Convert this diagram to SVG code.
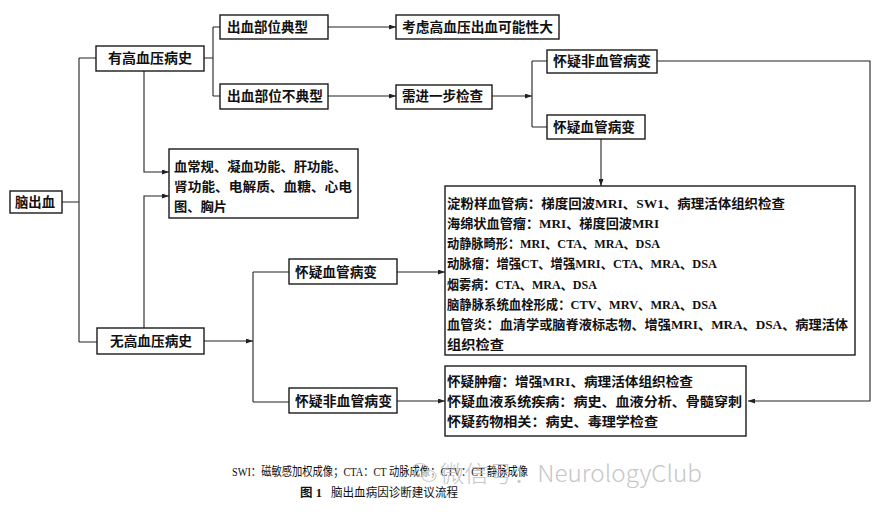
<svg xmlns="http://www.w3.org/2000/svg" width="888" height="519" viewBox="0 0 888 519">
<defs>
<marker id="ah" markerUnits="userSpaceOnUse" markerWidth="7" markerHeight="5" refX="7" refY="2.5" orient="auto">
<path d="M0,0 L7,2.5 L0,5 z" fill="#222"/>
</marker>
<style>
.box{fill:#fff;stroke:#1a1a1a;stroke-width:1.4}
.t{font-family:"Liberation Serif","Noto Sans CJK SC",serif;font-weight:bold;font-size:13.5px;fill:#111;dominant-baseline:central}
.s{font-family:"Liberation Serif","Noto Sans CJK SC",serif;font-weight:bold;font-size:13px;fill:#111;dominant-baseline:central}
.ln{fill:none;stroke:#222;stroke-width:1.1}
.cap{font-family:"Liberation Serif","Noto Sans CJK SC",serif;font-size:12.5px;fill:#111;dominant-baseline:central}
.wm{font-family:"Noto Sans CJK SC","Noto Sans",sans-serif;font-weight:300;font-size:23px;fill:#bdbdbd;dominant-baseline:central}
</style>
</defs>
<rect width="888" height="519" fill="#fff"/>

<g id="connectors">
<!-- 脑出血 trunk -->
<path class="ln" d="M62,202 H79 M79,58 V342 M79,58 H96 M79,342 H97"/>
<!-- 有高血压病史 bracket -->
<path class="ln" d="M204,58 H213 M213,27 V96 M213,27 H220 M213,96 H220"/>
<path class="ln" d="M328,27 H396" marker-end="url(#ah)"/>
<path class="ln" d="M328,96 H396" marker-end="url(#ah)"/>
<path class="ln" d="M492,96 H532" marker-end="url(#ah)"/>
<path class="ln" d="M532,61 V127 M532,61 H547 M532,127 H547"/>
<path class="ln" d="M601,139 V186" marker-end="url(#ah)"/>
<path class="ln" d="M657,61 H870 V401 H748" marker-end="url(#ah)"/>
<!-- lab box -->
<path class="ln" d="M144,71 V172 H169" marker-end="url(#ah)"/>
<path class="ln" d="M144,328 V196 H169" marker-end="url(#ah)"/>
<!-- 无高血压病史 -->
<path class="ln" d="M204,341 H253" marker-end="url(#ah)"/>
<path class="ln" d="M253,272 V402 M253,272 H289 M253,402 H289"/>
<path class="ln" d="M397,272 H445" marker-end="url(#ah)"/>
<path class="ln" d="M397,401 H445" marker-end="url(#ah)"/>
</g>

<g id="n-ich">
<rect class="box" x="10" y="191" width="52" height="22"/>
<text class="t" x="15" y="202" textLength="40" lengthAdjust="spacingAndGlyphs">脑出血</text>
</g>
<g id="n-htn">
<rect class="box" x="96" y="46" width="108" height="25"/>
<text class="t" x="108" y="58" textLength="84" lengthAdjust="spacingAndGlyphs">有高血压病史</text>
</g>
<g id="n-typical">
<rect class="box" x="220" y="15" width="108" height="24"/>
<text class="t" x="227" y="27" textLength="81" lengthAdjust="spacingAndGlyphs">出血部位典型</text>
</g>
<g id="n-atypical">
<rect class="box" x="220" y="84" width="108" height="25"/>
<text class="t" x="227" y="96" textLength="96" lengthAdjust="spacingAndGlyphs">出血部位不典型</text>
</g>
<g id="n-htn-ich">
<rect class="box" x="396" y="15" width="163" height="24"/>
<text class="t" x="402" y="27" textLength="151" lengthAdjust="spacingAndGlyphs">考虑高血压出血可能性大</text>
</g>
<g id="n-further">
<rect class="box" x="396" y="85" width="96" height="24"/>
<text class="t" x="402" y="96" textLength="81" lengthAdjust="spacingAndGlyphs">需进一步检查</text>
</g>
<g id="n-nonvasc-top">
<rect class="box" x="547" y="50" width="110" height="23"/>
<text class="t" x="553" y="61" textLength="98" lengthAdjust="spacingAndGlyphs">怀疑非血管病变</text>
</g>
<g id="n-vasc-top">
<rect class="box" x="547" y="115" width="98" height="24"/>
<text class="t" x="553" y="127" textLength="82" lengthAdjust="spacingAndGlyphs">怀疑血管病变</text>
</g>
<g id="n-labs">
<rect class="box" x="169" y="149" width="189" height="69"/>
<text class="s" x="174" y="166" textLength="173" lengthAdjust="spacingAndGlyphs">血常规、凝血功能、肝功能、</text>
<text class="s" x="174" y="186" textLength="178" lengthAdjust="spacingAndGlyphs">肾功能、电解质、血糖、心电</text>
<text class="s" x="174" y="206" textLength="53" lengthAdjust="spacingAndGlyphs">图、胸片</text>
</g>
<g id="n-nohtn">
<rect class="box" x="97" y="328" width="107" height="26"/>
<text class="t" x="110" y="341" textLength="82" lengthAdjust="spacingAndGlyphs">无高血压病史</text>
</g>
<g id="n-vasc-low">
<rect class="box" x="289" y="259" width="108" height="25"/>
<text class="t" x="295" y="272" textLength="82" lengthAdjust="spacingAndGlyphs">怀疑血管病变</text>
</g>
<g id="n-nonvasc-low">
<rect class="box" x="289" y="388" width="108" height="25"/>
<text class="t" x="295" y="401" textLength="97" lengthAdjust="spacingAndGlyphs">怀疑非血管病变</text>
</g>
<g id="n-vasc-workup">
<rect class="box" x="445" y="186" width="410" height="169"/>
<text class="s" x="447" y="203" textLength="338" lengthAdjust="spacingAndGlyphs">淀粉样血管病：梯度回波MRI、SW1、病理活体组织检查</text>
<text class="s" x="447" y="223" textLength="212" lengthAdjust="spacingAndGlyphs">海绵状血管瘤：MRI、梯度回波MRI</text>
<text class="s" x="447" y="243" textLength="213" lengthAdjust="spacingAndGlyphs">动静脉畸形：MRI、CTA、MRA、DSA</text>
<text class="s" x="447" y="263" textLength="270" lengthAdjust="spacingAndGlyphs">动脉瘤：增强CT、增强MRI、CTA、MRA、DSA</text>
<text class="s" x="447" y="284" textLength="150" lengthAdjust="spacingAndGlyphs">烟雾病：CTA、MRA、DSA</text>
<text class="s" x="447" y="304" textLength="270" lengthAdjust="spacingAndGlyphs">脑静脉系统血栓形成：CTV、MRV、MRA、DSA</text>
<text class="s" x="447" y="324" textLength="401" lengthAdjust="spacingAndGlyphs">血管炎：血清学或脑脊液标志物、增强MRI、MRA、DSA、病理活体</text>
<text class="s" x="447" y="344" textLength="57" lengthAdjust="spacingAndGlyphs">组织检查</text>
</g>
<g id="n-nonvasc-workup">
<rect class="box" x="445" y="366" width="301" height="70"/>
<text class="s" x="447" y="381" textLength="246" lengthAdjust="spacingAndGlyphs">怀疑肿瘤：增强MRI、病理活体组织检查</text>
<text class="s" x="447" y="401" textLength="295" lengthAdjust="spacingAndGlyphs">怀疑血液系统疾病：病史、血液分析、骨髓穿刺</text>
<text class="s" x="447" y="421" textLength="211" lengthAdjust="spacingAndGlyphs">怀疑药物相关：病史、毒理学检查</text>
</g>

<g id="caption">
<text class="cap" x="232" y="472" textLength="296" lengthAdjust="spacingAndGlyphs">SWI：磁敏感加权成像；CTA：CT 动脉成像；CTV：CT 静脉成像</text>
<text class="cap" x="300" y="493" font-weight="bold">图 1</text>
<text class="cap" x="331" y="493" textLength="127" lengthAdjust="spacingAndGlyphs">脑出血病因诊断建议流程</text>
</g>
<g id="watermark" opacity="0.85">
<ellipse cx="420" cy="470" rx="8" ry="6.5" fill="none" stroke="#c4c4c4" stroke-width="1.2"/>
<ellipse cx="429" cy="476" rx="7" ry="5.5" fill="#fff" fill-opacity="0.6" stroke="#c4c4c4" stroke-width="1.2"/>
<text class="wm" x="440" y="472" textLength="262" lengthAdjust="spacingAndGlyphs">微信号：NeurologyClub</text>
</g>
</svg>
